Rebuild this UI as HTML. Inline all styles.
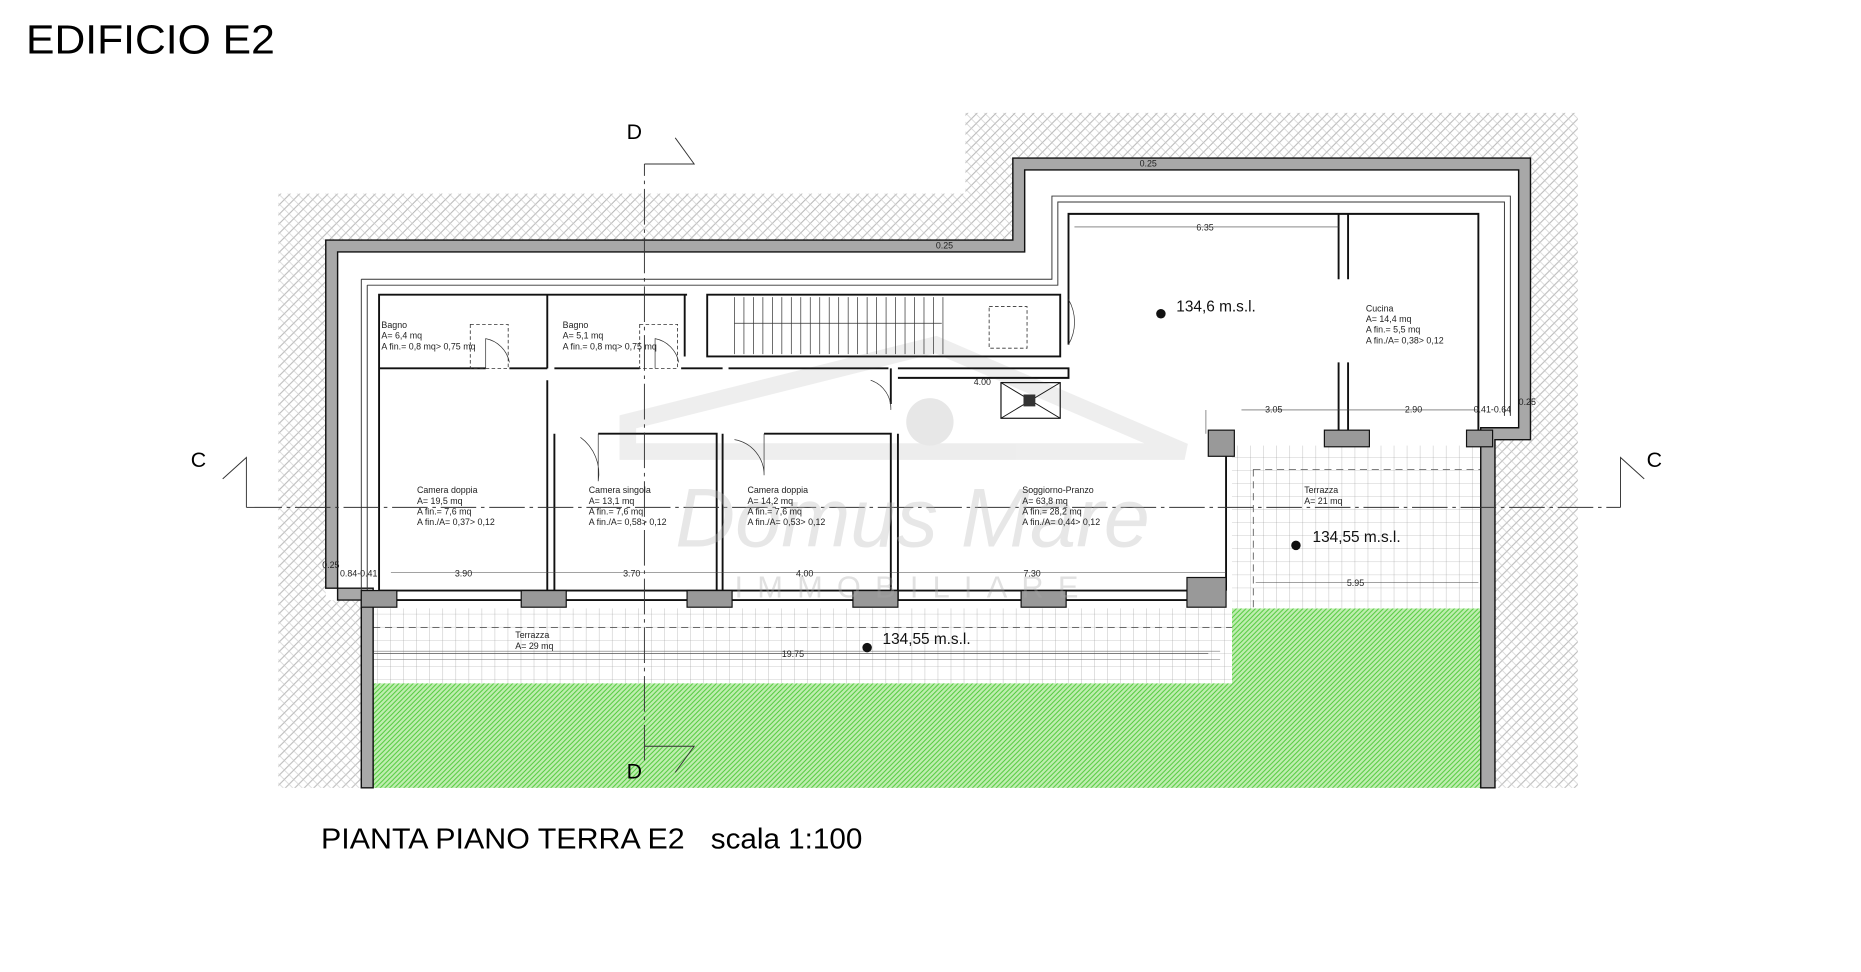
<!DOCTYPE html>
<html><head><meta charset="utf-8"><style>
html,body{margin:0;padding:0;background:#fff;width:1861px;height:972px;overflow:hidden}
svg{display:block}
text{font-family:"Liberation Sans",sans-serif}
</style></head><body>
<svg width="1861" height="972" viewBox="0 0 1571 818" preserveAspectRatio="none" xmlns="http://www.w3.org/2000/svg">
<defs>
<pattern id="h" width="8" height="8" patternUnits="userSpaceOnUse">
<rect width="8" height="8" fill="#fff"/>
<path d="M0 8L8 0M-2 2L2 -2M6 10L10 6" stroke="#b5b5b5" stroke-width="0.8"/>
<path d="M0 0L8 8" stroke="#d0d0d0" stroke-width="0.6"/>
</pattern>
<pattern id="g" width="4" height="4" patternUnits="userSpaceOnUse">
<rect width="4" height="4" fill="#bfeeb0"/>
<path d="M0 4L4 0M-1 1L1 -1M3 5L5 3" stroke="#4fc93a" stroke-width="0.8"/>
</pattern>
<pattern id="t" width="11" height="11" patternUnits="userSpaceOnUse">
<rect width="11" height="11" fill="#fff"/>
<path d="M11 0V11M0 11H11" stroke="#999" stroke-width="0.5"/>
</pattern>
</defs>
<text x="22" y="45" font-size="34" textLength="210" lengthAdjust="spacingAndGlyphs">EDIFICIO E2</text>

<path d="M235 163H815V95H1332V663H235Z" fill="url(#h)"/>
<path d="M275 202H855V133H1292V370H1262V663H305V505H275Z" fill="#fff"/>
<path d="M315 575H1040V512H1250V663H315Z" fill="url(#g)"/>
<rect x="315" y="512" width="725" height="63" fill="url(#t)"/>
<rect x="1040" y="375" width="210" height="137" fill="url(#t)"/>
<path d="M315 528H1040M1058 395H1250M1058 395V512" stroke="#555" stroke-width="0.7" stroke-dasharray="6,4" fill="none"/>
<path d="M315 548H1030M315 555H1030" stroke="#777" stroke-width="0.5"/>

<path d="M275 202H855V133H1292V370H1262V663H1250V360H1282V143H865V212H285V505H305V663H315V495H275Z" fill="#a8a8a8" stroke="#111" stroke-width="1.2"/>
<path d="M305 235H888V165H1275V350M310 240H893V170H1270V350M305 235V505M310 240V500" fill="none" stroke="#333" stroke-width="0.8"/>

<g fill="none" stroke="#111" stroke-width="1.6">
<path d="M320 505V248H580M468 248H578V300M462 248V310M597 248H895V300H597Z"/>
<path d="M902 290V180H1248V365M1130 180V235M1138 180V235M1130 305V365M1138 305V365"/>
<path d="M320 310H410M430 310H462M468 310H540M575 310H610M615 310H750M758 310H902V318H758"/>
<path d="M462 320V505M468 365V505M505 365H605V505M610 365V505M645 365H752V505M758 365V505M752 310V340"/>
<path d="M320 505H1035M320 497H1035M1035 497V375"/>
</g>
<g fill="#999" stroke="#111" stroke-width="1">
<rect x="440" y="497" width="38" height="14"/><rect x="580" y="497" width="38" height="14"/>
<rect x="720" y="497" width="38" height="14"/><rect x="862" y="497" width="38" height="14"/>
<rect x="1002" y="486" width="33" height="25"/><rect x="305" y="497" width="30" height="14"/>
<rect x="1118" y="362" width="38" height="14"/><rect x="1020" y="362" width="22" height="22"/>
<rect x="1238" y="362" width="22" height="14"/>
<rect x="845" y="322" width="50" height="30" fill="#fff"/>
</g>
<path d="M845 322L895 352M895 322L845 352" stroke="#111" stroke-width="0.8"/>
<rect x="864" y="332" width="10" height="10" fill="#333"/>
<g stroke="#333" stroke-width="0.6">
<path d="M620 250V298M628 250V298M636 250V298M644 250V298M652 250V298M660 250V298M668 250V298M676 250V298M684 250V298M692 250V298M700 250V298M708 250V298M716 250V298M724 250V298M732 250V298M740 250V298M748 250V298M756 250V298M764 250V298M772 250V298M780 250V298M788 250V298M796 250V298"/>
<path d="M620 272H795"/>
</g>
<rect x="835" y="258" width="32" height="35" fill="none" stroke="#333" stroke-dasharray="3,2" stroke-width="0.7"/>
<rect x="397" y="273" width="32" height="37" fill="none" stroke="#333" stroke-dasharray="3,2" stroke-width="0.7"/>
<rect x="540" y="273" width="32" height="37" fill="none" stroke="#333" stroke-dasharray="3,2" stroke-width="0.7"/>
<g fill="none" stroke="#333" stroke-width="0.6">
<path d="M410 310V285A25 25 0 0 1 430 305"/><path d="M553 310V285A25 25 0 0 1 573 305"/>
<path d="M505 365V405A38 38 0 0 0 490 368"/><path d="M645 365V400A30 30 0 0 0 620 370"/>
<path d="M902 252A38 38 0 0 1 902 290"/><path d="M752 345A25 25 0 0 0 735 320"/>
</g>
<g stroke="#333" stroke-width="0.8" fill="none">
<path d="M544 640V138" stroke-dasharray="30,4,3,4"/>
<path d="M544 138H586L570 116M544 628H586L570 650"/>
<path d="M208 427H1368" stroke-dasharray="30,4,3,4"/>
<path d="M208 427V385L188 403M1368 427V385L1388 403"/>
</g>
<text x="529" y="117" font-size="18">D</text>
<text x="529" y="655" font-size="18">D</text>
<text x="161" y="393" font-size="18">C</text>
<text x="1390" y="393" font-size="18">C</text>

<g opacity="0.09">
<path d="M530 355L790 290L1000 380H530Z" fill="none" stroke="#444" stroke-width="14"/>
<circle cx="785" cy="355" r="20" fill="#000"/>
</g>
<text x="570" y="460" font-size="70" font-family="Liberation Serif" font-style="italic" fill="#bbb" opacity="0.35">Domus Mare</text>
<text x="620" y="503" font-size="26" font-family="Liberation Serif" fill="#aaa" opacity="0.35" letter-spacing="12">IMMOBILIARE</text>

<g font-size="7.5" fill="#222">
<text x="322" y="276">Bagno</text><text x="322" y="285">A= 6,4 mq</text><text x="322" y="294">A fin.= 0,8 mq&gt; 0,75 mq</text>
<text x="475" y="276">Bagno</text><text x="475" y="285">A= 5,1 mq</text><text x="475" y="294">A fin.= 0,8 mq&gt; 0,75 mq</text>
<text x="352" y="415">Camera doppia</text><text x="352" y="424">A= 19,5 mq</text><text x="352" y="433">A fin.= 7,6 mq</text><text x="352" y="442">A fin./A= 0,37&gt; 0,12</text>
<text x="497" y="415">Camera singola</text><text x="497" y="424">A= 13,1 mq</text><text x="497" y="433">A fin.= 7,6 mq</text><text x="497" y="442">A fin./A= 0,58&gt; 0,12</text>
<text x="631" y="415">Camera doppia</text><text x="631" y="424">A= 14,2 mq</text><text x="631" y="433">A fin.= 7,6 mq</text><text x="631" y="442">A fin./A= 0,53&gt; 0,12</text>
<text x="863" y="415">Soggiorno-Pranzo</text><text x="863" y="424">A= 63,8 mq</text><text x="863" y="433">A fin.= 28,2 mq</text><text x="863" y="442">A fin./A= 0,44&gt; 0,12</text>
<text x="1153" y="262">Cucina</text><text x="1153" y="271">A= 14,4 mq</text><text x="1153" y="280">A fin.= 5,5 mq</text><text x="1153" y="289">A fin./A= 0,38&gt; 0,12</text>
<text x="1101" y="415">Terrazza</text><text x="1101" y="424">A= 21 mq</text>
<text x="435" y="537">Terrazza</text><text x="435" y="546">A= 29 mq</text>
<text x="962" y="140">0.25</text><text x="790" y="209">0.25</text><text x="1010" y="194">6.35</text>
<text x="822" y="324">4.00</text><text x="1068" y="347">3.05</text><text x="1186" y="347">2.90</text><text x="1244" y="347">0.41-0.64</text><text x="1282" y="341">0.25</text>
<text x="384" y="485">3.90</text><text x="526" y="485">3.70</text><text x="672" y="485">4.00</text><text x="864" y="485">7.30</text>
<text x="272" y="478">0.25</text><text x="287" y="485">0.84-0.41</text>
<text x="660" y="553">19.75</text><text x="1137" y="493">5.95</text>
</g>
<g stroke="#444" stroke-width="0.5">
<path d="M907 191H1130M1048 345H1248M330 482H1035M1018 345V365M315 550H1020M1060 490H1248"/>
</g>
<g font-size="13" fill="#111">
<text x="993" y="262">134,6 m.s.l.</text>
<text x="1108" y="456">134,55 m.s.l.</text>
<text x="745" y="542">134,55 m.s.l.</text>
</g>
<g fill="#111"><circle cx="980" cy="264" r="4"/><circle cx="1094" cy="459" r="4"/><circle cx="732" cy="545" r="4"/></g>
<text x="271" y="714" font-size="24" textLength="307" lengthAdjust="spacingAndGlyphs">PIANTA PIANO TERRA E2</text>
<text x="600" y="714" font-size="24" textLength="128" lengthAdjust="spacingAndGlyphs">scala 1:100</text>
</svg>
</body></html>
